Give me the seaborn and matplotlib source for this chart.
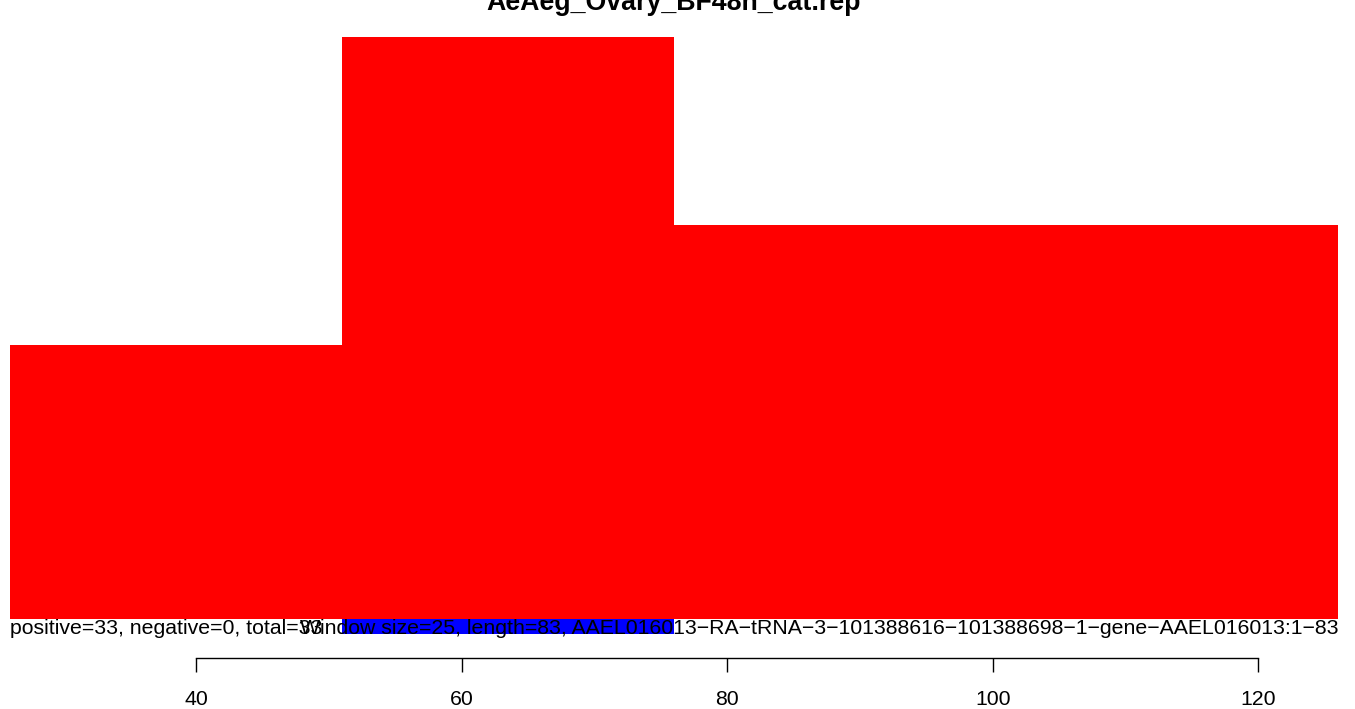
import numpy as np
import pandas as pd
import seaborn as sns
import matplotlib
matplotlib.use("Agg")
import matplotlib.pyplot as plt

# window start positions (size 25) and read counts per window
win_start = [26, 51, 76, 101]
pos_counts = [8, 17, 11.5, 11.5]
neg_start = [51]
neg_counts = [-0.44]
win_size = 25
x_ticks = [40, 60, 80, 100, 120]

title = "AeAeg_Ovary_BF48h_cat.rep"
left_note = "positive=33, negative=0, total=33"
right_note = ("Window size=25, length=83, AAEL016013\u2212RA\u2212tRNA\u22123\u2212101388616"
              "\u2212101388698\u22121\u2212gene\u2212AAEL016013:1\u221283")

sns.set_style("white")
plt.rcParams["font.family"] = ["Liberation Sans", "DejaVu Sans"]
plt.rcParams["text.color"] = "black"
plt.rcParams["xtick.color"] = "black"

df = pd.DataFrame({"start": win_start, "count": pos_counts})
df["mid"] = df["start"] + win_size / 2
edges = list(win_start) + [win_start[-1] + win_size]

dn = pd.DataFrame({"start": neg_start, "count": neg_counts})
dn["mid"] = dn["start"] + win_size / 2
nedges = [neg_start[0], neg_start[0] + win_size]

fig = plt.figure(figsize=(13.55, 7.09), dpi=100)
ax = fig.add_axes([10 / 1355, 1 - 658 / 709, 1328 / 1355, 621 / 709])

sns.histplot(data=df, x="mid", weights="count", bins=edges, color="#ff0000",
             alpha=1, linewidth=0, ax=ax)
sns.histplot(data=dn, x="mid", weights="count", bins=nedges, color="#0000ff",
             alpha=1, linewidth=0, ax=ax)

ymax = max(pos_counts)
unit = 582 / ymax  # px per count
ax.set_xlim(win_start[0], win_start[-1] + win_size)
ax.set_ylim(-(658 - 619) / unit, ymax)

ax.text(win_start[0], -15.5 / unit, left_note, ha="left", va="baseline",
        fontsize=15.3, color="black", zorder=5)
ax.text(win_start[-1] + win_size, -15.5 / unit, right_note, ha="right", va="baseline",
        fontsize=15.3, color="black", zorder=5)

for s in ["left", "top", "right"]:
    ax.spines[s].set_visible(False)
ax.spines["bottom"].set_bounds(x_ticks[0], x_ticks[-1])
ax.spines["bottom"].set_linewidth(1.0)
ax.spines["bottom"].set_color("black")
ax.set_xticks(x_ticks)
ax.set_xticklabels([str(t) for t in x_ticks], fontsize=15.3)
ax.tick_params(axis="x", length=10, width=1.0, pad=13, bottom=True,
               colors="black", labelcolor="black")
ax.set_yticks([])
ax.set_xlabel("")
ax.set_ylabel("")

fig.text(674 / 1355, 1 - 10 / 709, title, ha="center", va="baseline",
         fontsize=19.3, fontweight="bold", color="black")

fig.savefig("out.png", dpi=100)
